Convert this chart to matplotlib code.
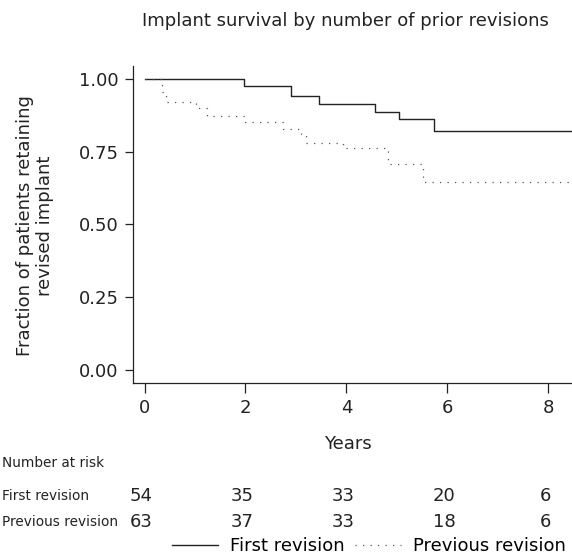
import matplotlib
matplotlib.use("Agg")
import matplotlib.pyplot as plt
import matplotlib.transforms as mtransforms
import numpy as np

# Kaplan-Meier style step data (time in years, fraction retaining implant)
first_times = [0.0, 1.98, 2.91, 3.45, 4.57, 5.04, 5.73, 8.45]
first_surv = [1.000, 0.975, 0.942, 0.915, 0.888, 0.861, 0.821, 0.821]

prev_times = [0.0, 0.34, 0.42, 1.03, 1.23, 1.99, 2.74, 3.10, 3.20, 3.94, 4.83, 5.52, 8.45]
prev_surv = [1.000, 0.955, 0.922, 0.900, 0.874, 0.853, 0.829, 0.805, 0.781, 0.762, 0.707, 0.647, 0.647]

risk_years = [0, 2, 4, 6, 8]
risk_first = [54, 35, 33, 20, 6]
risk_prev = [63, 37, 33, 18, 6]
risk_rows = ["Number at risk", "First revision", "Previous revision"]

y_ticks = [0.0, 0.25, 0.5, 0.75, 1.0]
x_ticks = [0, 2, 4, 6, 8]

plt.rcParams["font.family"] = ["DejaVu Sans"]
fs = 13
ink = "#222222"

fig = plt.figure(figsize=(5.72, 5.57), dpi=100)
W, H = 572.0, 557.0
ax = fig.add_axes([132.7 / W, 1 - 382.5 / H, 1 - 132.7 / W, (382.5 - 66) / H])

ax.step(first_times, first_surv, where="post", color="#222222", lw=1.0,
        label="First revision")
ax.step(prev_times, prev_surv, where="post", color="#555555", lw=0.9,
        linestyle=(0, (1, 5)), label="Previous revision")

ax.set_xlim(-0.234, 8.47)
ax.set_ylim(-0.0436, 1.045)
ax.set_xticks(x_ticks)
ax.set_yticks(y_ticks)
ax.set_yticklabels(["%.2f" % v for v in y_ticks])
ax.spines["top"].set_visible(False)
ax.spines["right"].set_visible(False)
for s in ["left", "bottom"]:
    ax.spines[s].set_linewidth(0.9)
    ax.spines[s].set_color(ink)
ax.tick_params(axis="x", direction="out", length=7, width=0.9, pad=5,
               labelsize=fs, colors=ink)
ax.tick_params(axis="y", direction="out", length=6, width=0.9, pad=4,
               labelsize=fs, colors=ink)

fig.text(345 / W, 1 - 21 / H, "Implant survival by number of prior revisions",
         ha="center", va="center", fontsize=fs, color=ink)
fig.text(35 / W, 1 - 226 / H, "Fraction of patients retaining\nrevised implant",
         rotation=90, ha="center", va="center", multialignment="center",
         fontsize=fs, color=ink, linespacing=1.1)
fig.text(348 / W, 1 - 444 / H, "Years", ha="center", va="center",
         fontsize=fs, color=ink)

# number at risk table
row_y = [463, 496, 522]
for name, yy in zip(risk_rows, row_y):
    fig.text(2 / W, 1 - yy / H, name, ha="left", va="center",
             fontsize=9.8, color=ink)
trans = mtransforms.blended_transform_factory(ax.transData, fig.transFigure)
for yr, a, b in zip(risk_years, risk_first, risk_prev):
    ax.text(yr - 0.06, 1 - row_y[1] / H, str(a), transform=trans, ha="center",
            va="center", fontsize=fs, color=ink, clip_on=False)
    ax.text(yr - 0.06, 1 - row_y[2] / H, str(b), transform=trans, ha="center",
            va="center", fontsize=fs, color=ink, clip_on=False)

handles, labels = ax.get_legend_handles_labels()
fig.legend(handles, labels, loc="center right", bbox_to_anchor=(566 / W, 1 - 546 / H),
           ncol=2, frameon=False, fontsize=fs, handlelength=2.55,
           handletextpad=0.66, columnspacing=0.6, borderaxespad=0, borderpad=0)

fig.savefig("out.png", dpi=100)
